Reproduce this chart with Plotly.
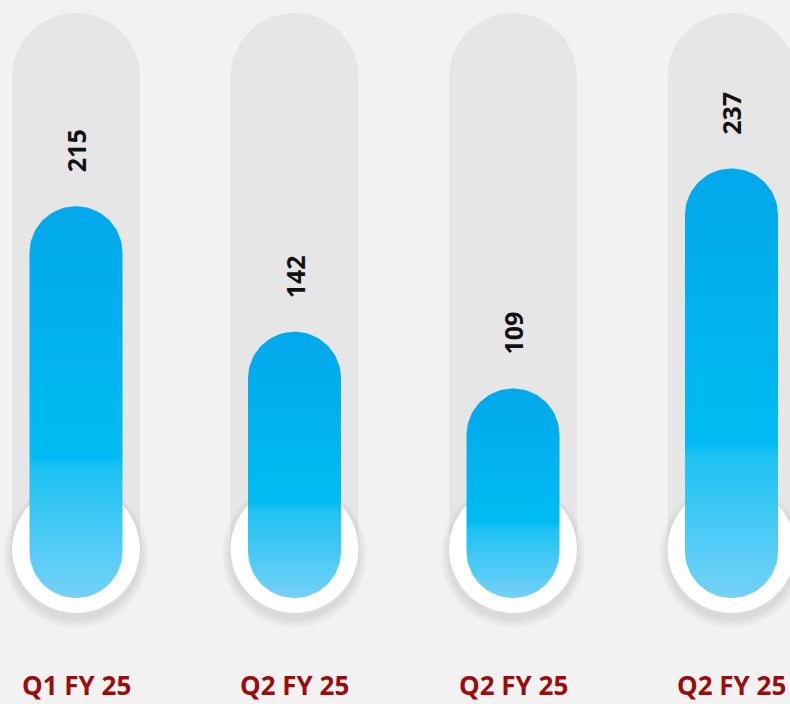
import numpy as np
import plotly.graph_objects as go

# ---- data ----
categories = ["Q1 FY 25", "Q2 FY 25", "Q2 FY 25", "Q2 FY 25"]
values = [215, 142, 109, 237]

# ---- geometry (pixel based helpers) ----
W, H = 790, 704
PX_X = 218.5            # pixels per category unit
X0 = -76 / PX_X
PX_Y = 1.72             # pixels per value unit
BASE_PX = 576           # pixel row of value 0
Y0 = -(H - BASE_PX) / PX_Y
Y1 = BASE_PX / PX_Y


def ydata(px):
    return (BASE_PX - px) / PX_Y


def pill(cx, ytop, ybot, r, n=48):
    rt = r / PX_Y
    xs, ys = [], []
    for t in np.linspace(np.pi, 0, n):
        xs.append(cx + r * np.cos(t) / PX_X)
        ys.append(ytop - rt + rt * np.sin(t))
    for t in np.linspace(0, -np.pi, n):
        xs.append(cx + r * np.cos(t) / PX_X)
        ys.append(ybot + rt + rt * np.sin(t))
    xs.append(xs[0]); ys.append(ys[0])
    return xs, ys


def circle(cx, cy, r, n=90):
    t = np.linspace(0, 2 * np.pi, n)
    return list(cx + r * np.cos(t) / PX_X), list(cy + r * np.sin(t) / PX_Y)


fig = go.Figure()
xpos = list(range(len(values)))

TRACK_TOP = ydata(13)
CIRC_CY = ydata(549)
CIRC_R = 64
BAR_BOT = ydata(598)
BAR_R = 46.5

# tracks
for i in xpos:
    xs, ys = pill(i, TRACK_TOP, ydata(613), CIRC_R)
    fig.add_trace(go.Scatter(x=xs, y=ys, fill="toself", mode="lines",
                             line=dict(width=0), fillcolor="#E6E6E6",
                             hoverinfo="skip"))

# circle shadows
for i in xpos:
    for k in range(6):
        xs, ys = circle(i, CIRC_CY - 6 / PX_Y, CIRC_R + 1 + 1.6 * k)
        fig.add_trace(go.Scatter(x=xs, y=ys, fill="toself", mode="lines",
                                 line=dict(width=0),
                                 fillcolor="rgba(0,0,0,0.016)",
                                 hoverinfo="skip"))

# white circles
for i in xpos:
    xs, ys = circle(i, CIRC_CY, CIRC_R)
    fig.add_trace(go.Scatter(x=xs, y=ys, fill="toself", mode="lines",
                             line=dict(width=0), fillcolor="#FFFFFF",
                             hoverinfo="skip"))

# bars
bar_scale = [[0, "#74D1F7"], [0.33, "#1CC2F3"], [0.36, "#00BCF2"], [1, "#02A8EB"]]
for i, v in zip(xpos, values):
    xs, ys = pill(i, v, BAR_BOT, BAR_R)
    fig.add_trace(go.Scatter(x=xs, y=ys, fill="toself", mode="lines",
                             line=dict(width=0),
                             fillgradient=dict(type="vertical", colorscale=bar_scale),
                             hoverinfo="skip"))

# value labels
for i, v in zip(xpos, values):
    fig.add_annotation(x=i, y=v, text=str(v), showarrow=False, textangle=-90,
                       yshift=55,
                       font=dict(family="Open Sans", size=25, color="#111111", weight="bold"))

# category labels
for i, c in zip(xpos, categories):
    fig.add_annotation(x=i, y=0, xref="x", yref="paper", yanchor="bottom",
                       text=c, showarrow=False, yshift=0, borderpad=0,
                       font=dict(family="Open Sans", size=26, color="#9B0C0C", weight="bold"))

fig.update_layout(
    width=W, height=H, margin=dict(l=0, r=0, t=0, b=0),
    paper_bgcolor="#F2F2F2", plot_bgcolor="#F2F2F2",
    showlegend=False,
    xaxis=dict(range=[X0, X0 + W / PX_X], visible=False, fixedrange=True),
    yaxis=dict(range=[Y0, Y1], visible=False, fixedrange=True),
)

fig.write_html("out.html")
